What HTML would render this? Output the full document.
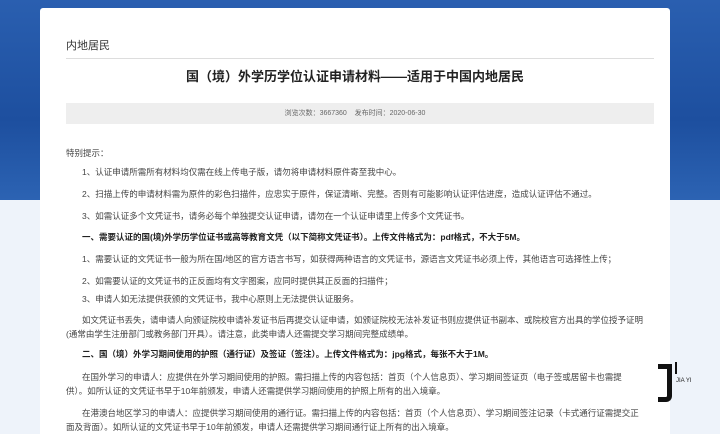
<!DOCTYPE html>
<html><head><meta charset="utf-8"><style>
*{margin:0;padding:0;box-sizing:border-box}
html,body{width:720px;height:434px;overflow:hidden}
body{position:relative;background:#eef3fa;font-family:"Liberation Sans","Noto Sans CJK SC",sans-serif;color:#444}
#ban{position:absolute;left:0;top:0;width:720px;height:200px;background:linear-gradient(180deg,#2a5fb0,#1d4f9f 60%,#2c63b3)}
#card{position:absolute;left:40px;top:8px;width:630px;height:430px;background:#fff;border-radius:3px}
.t{position:absolute;font-size:8.5px;white-space:nowrap;line-height:14px}
.b{font-weight:bold;color:#222}
</style></head><body>
<div id="ban"></div>
<div id="card"></div>
<div class="t" style="left:66px;top:39px;font-size:11px;color:#333">内地居民</div>
<div style="position:absolute;left:66px;top:58px;width:588px;height:1px;background:#ddd"></div>
<div class="t b" style="left:0;width:710px;text-align:center;top:70px;font-size:13px">国（境）外学历学位认证申请材料——适用于中国内地居民</div>
<div style="position:absolute;left:66px;top:103px;width:588px;height:21px;background:#eee"></div>
<div class="t" style="left:0;width:710px;text-align:center;top:107px;font-size:7px;color:#666">浏览次数：3667360&nbsp;&nbsp;&nbsp;&nbsp;发布时间：2020-06-30</div>
<div class="t" style="left:66px;top:146px">特别提示：</div>
<div class="t" style="left:82px;top:165px">1、认证申请所需所有材料均仅需在线上传电子版，请勿将申请材料原件寄至我中心。</div>
<div class="t" style="left:82px;top:187px">2、扫描上传的申请材料需为原件的彩色扫描件，应忠实于原件，保证清晰、完整。否则有可能影响认证评估进度，造成认证评估不通过。</div>
<div class="t" style="left:82px;top:209px">3、如需认证多个文凭证书，请务必每个单独提交认证申请，请勿在一个认证申请里上传多个文凭证书。</div>
<div class="t b" style="left:82px;top:230px">一、需要认证的国(境)外学历学位证书或高等教育文凭（以下简称文凭证书）。上传文件格式为：pdf格式，不大于5M。</div>
<div class="t" style="left:82px;top:252px">1、需要认证的文凭证书一般为所在国/地区的官方语言书写，如获得两种语言的文凭证书，源语言文凭证书必须上传，其他语言可选择性上传；</div>
<div class="t" style="left:82px;top:274px">2、如需要认证的文凭证书的正反面均有文字图案，应同时提供其正反面的扫描件；</div>
<div class="t" style="left:82px;top:292px">3、申请人如无法提供获颁的文凭证书，我中心原则上无法提供认证服务。</div>
<div class="t" style="left:82px;top:313px">如文凭证书丢失，请申请人向颁证院校申请补发证书后再提交认证申请，如颁证院校无法补发证书则应提供证书副本、或院校官方出具的学位授予证明</div>
<div class="t" style="left:66px;top:327px">(通常由学生注册部门或教务部门开具）。请注意，此类申请人还需提交学习期间完整成绩单。</div>
<div class="t b" style="left:82px;top:347px">二、国（境）外学习期间使用的护照（通行证）及签证（签注）。上传文件格式为：jpg格式，每张不大于1M。</div>
<div class="t" style="left:82px;top:370px">在国外学习的申请人：应提供在外学习期间使用的护照。需扫描上传的内容包括：首页（个人信息页）、学习期间签证页（电子签或居留卡也需提</div>
<div class="t" style="left:66px;top:384px">供）。如所认证的文凭证书早于10年前颁发，申请人还需提供学习期间使用的护照上所有的出入境章。</div>
<div class="t" style="left:82px;top:406px">在港澳台地区学习的申请人：应提供学习期间使用的通行证。需扫描上传的内容包括：首页（个人信息页）、学习期间签注记录（卡式通行证需提交正</div>
<div class="t" style="left:66px;top:420px">面及背面）。如所认证的文凭证书早于10年前颁发，申请人还需提供学习期间通行证上所有的出入境章。</div>
<div style="position:absolute;left:658px;top:364px;width:14px;height:38px;border:5px solid #111;border-left:none;border-top:none;border-radius:0 0 6px 0"></div>
<div style="position:absolute;left:658px;top:364px;width:14px;height:5px;background:#111"></div>
<div style="position:absolute;left:675px;top:362px;width:2px;height:12px;background:#111"></div>
<div class="t" style="left:676px;top:374px;font-size:6px;color:#222">JIA YI</div>
</body></html>
